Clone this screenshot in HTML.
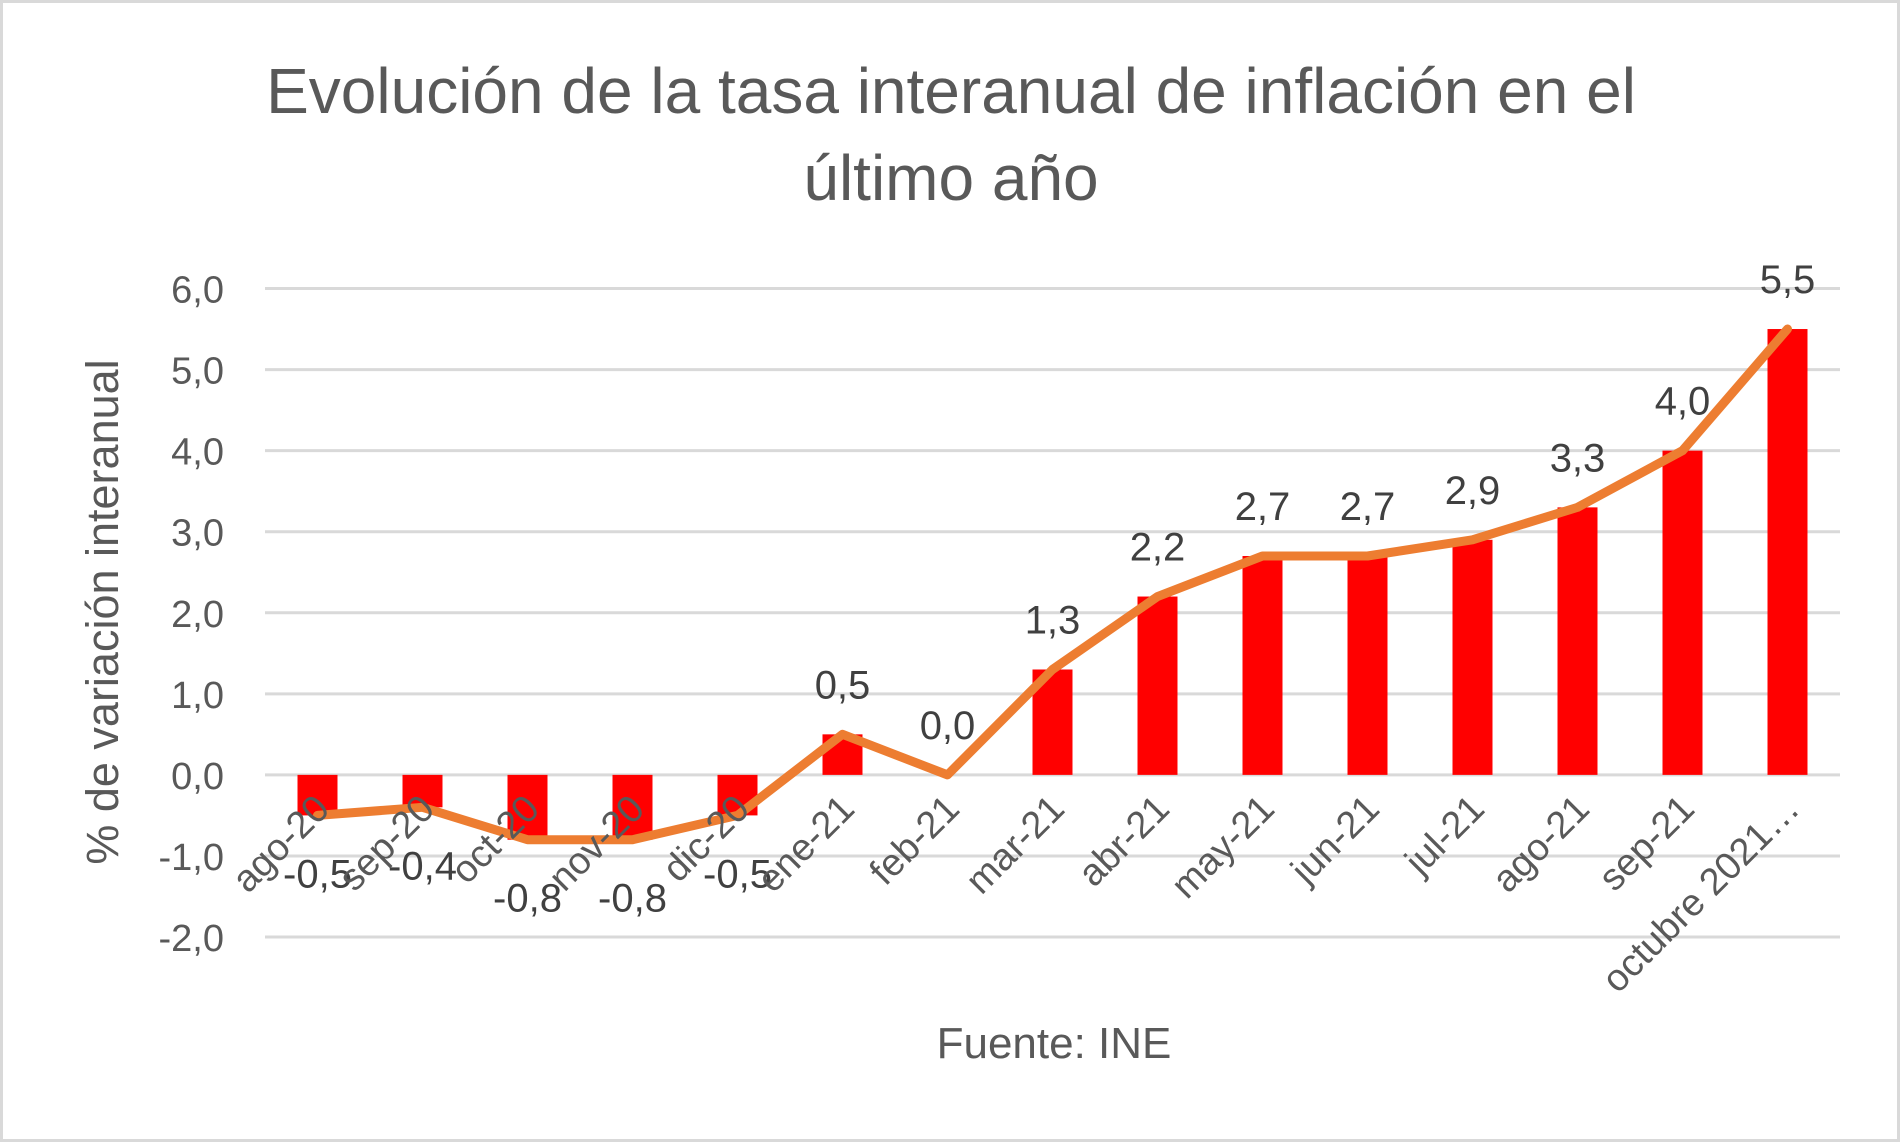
<!DOCTYPE html>
<html><head><meta charset="utf-8"><style>
body{margin:0;background:#fff}
svg{display:block;font-family:"Liberation Sans",sans-serif}
</style></head><body>
<svg id="chart" width="1900" height="1142">
<rect x="1.5" y="1.5" width="1897" height="1139" fill="#fff" stroke="#d9d9d9" stroke-width="3"/>
<text x="951" y="113" font-size="64" fill="#595959" text-anchor="middle">Evolución de la tasa interanual de inflación en el</text>
<text x="951" y="200" font-size="64" fill="#595959" text-anchor="middle">último año</text>
<text transform="translate(118,612) rotate(-90)" font-size="45" fill="#595959" text-anchor="middle">% de variación interanual</text>
<text x="1054" y="1058" font-size="44" fill="#595959" text-anchor="middle">Fuente: INE</text>
<g id="grid"></g><g id="bars"></g><g id="line"></g><g id="labels"></g>
</svg>
<script>
const categories=["ago-20","sep-20","oct-20","nov-20","dic-20","ene-21","feb-21","mar-21","abr-21","may-21","jun-21","jul-21","ago-21","sep-21","octubre 2021…"];
const values=[-0.5,-0.4,-0.8,-0.8,-0.5,0.5,0.0,1.3,2.2,2.7,2.7,2.9,3.3,4.0,5.5];
const valueLabels=["-0,5","-0,4","-0,8","-0,8","-0,5","0,5","0,0","1,3","2,2","2,7","2,7","2,9","3,3","4,0","5,5"];
const yTicks=[-2,-1,0,1,2,3,4,5,6];
const yTickLabels=["-2,0","-1,0","0,0","1,0","2,0","3,0","4,0","5,0","6,0"];
const NS="http://www.w3.org/2000/svg";
const x0=265,x1=1840,yTop=288.5,yBot=937;
const y=v=>yBot-(v+2)/8*(yBot-yTop);
const cw=(x1-x0)/categories.length;
const xc=i=>x0+cw*(i+0.5);
function mk(t,a,p){const e=document.createElementNS(NS,t);for(const k in a)e.setAttribute(k,a[k]);p.appendChild(e);return e;}
const g=document.getElementById('grid'),b=document.getElementById('bars'),l=document.getElementById('line'),lb=document.getElementById('labels');
yTicks.forEach((v,i)=>{
 const ln=mk('line',{x1:x0,x2:x1,y1:y(v),y2:y(v),stroke:'#d9d9d9','stroke-width':3},g);
 
 
 const t=mk('text',{x:224,y:y(v)+14,'font-size':38,fill:'#595959','text-anchor':'end'},g);
 t.textContent=yTickLabels[i];
 
 
});
let pts=[];
values.forEach((v,i)=>{
 const top=Math.min(y(v),y(0)),h=Math.abs(y(v)-y(0));
 const r=mk('rect',{x:xc(i)-20,y:top,width:40,height:h,fill:'#ff0000'},b);
 
 
 pts.push(xc(i)+','+y(v));
 const t=mk('text',{x:xc(i),y:(v>=0?y(v)-36:y(v)+72),'font-size':40,fill:'#404040','text-anchor':'middle'},lb);
 t.textContent=valueLabels[i];
 
 
 const c=mk('text',{transform:`translate(${xc(i)+14},${y(0)+36}) rotate(-45)`,'font-size':38,fill:'#595959','text-anchor':'end'},lb);
 c.textContent=categories[i];
 
 
});
const pl=mk('polyline',{points:pts.join(' '),fill:'none',stroke:'#ed7d31','stroke-width':9,'stroke-linejoin':'round','stroke-linecap':'round'},l);


</script>
</body></html>
